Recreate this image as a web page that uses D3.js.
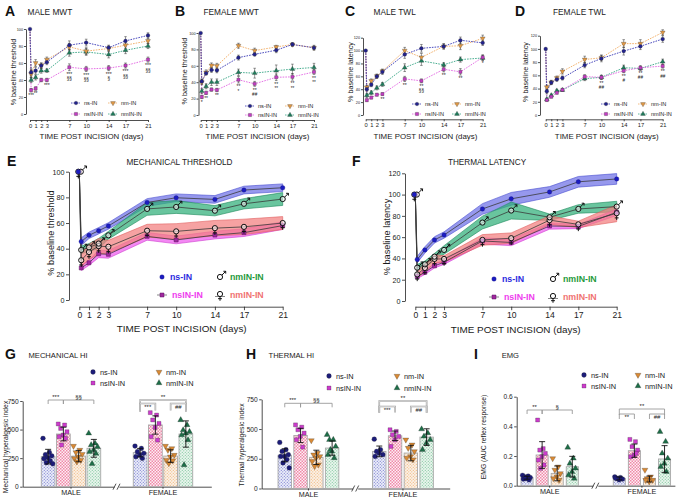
<!DOCTYPE html>
<html><head><meta charset="utf-8">
<script src="https://cdn.jsdelivr.net/npm/d3@7/dist/d3.min.js"></script>
<style>
html,body{margin:0;padding:0;background:#fff}
svg{display:block}
text{font-family:"Liberation Sans",Arial,Helvetica,sans-serif}
</style></head><body>
<svg id="chart" width="688" height="499"></svg>
<script>
// ================= DATA =================
const dayTicks = [0,1,2,3,7,10,14,17,21];
const measureDays = [0,0.2,1,2,3,7,10,14,17,21]; // first entry = pre-incision baseline
const groups = ["ns-IN","nsIN-IN","nm-IN","nmIN-IN"];
const sexes = ["MALE","FEMALE"];
const pctTicks100 = [0,20,40,60,80,100];
const pctTicks120 = [0,20,40,60,80,100,120];
const hiTicks = [0,250,500,750];
const emgTicks = [0,0.2,0.4,0.6];

// A - male MWT
const maleMwtNs   = [100,49,51,57,61,81,84,78,86,92.5];
const maleMwtNm   = [100,47,60,57,64,79,74,77,81,86];
const maleMwtNsin = [100,28,30,40,40,55,53,54,57,64];
const maleMwtNmin = [100,40,43,51,51,72,73,70,75,80];
const maleMwtNsErr   = [0,4,4,3,3,5,4,3,5,3];
const maleMwtNmErr   = [0,4,4,3,3,4,4,3,4,3];
const maleMwtNsinErr = [0,2,2,2,2,4,3,3,3,3];
const maleMwtNminErr = [0,3,3,3,2,4,4,4,4,3];
const maleMwtSig1 = ["","***","**","","***","***","***","***","***","***"];
const maleMwtSig2 = ["","","","","","§§","§§","§","§§","§§"];

// B - female MWT
const femaleMwtNs   = [100,41,51,55,54.5,70,74,79,86,82];
const femaleMwtNm   = [100,40,52,60.5,60,84.5,78.5,83,86,82];
const femaleMwtNsin = [100,22,27,31,30.5,43,38,46,46.5,52.5];
const femaleMwtNmin = [100,29,35,40,40,52,51,54,56,58];
const femaleMwtNsErr   = [0,3,2,3,3,3,2,3,2,3];
const femaleMwtNmErr   = [0,3,3,3,3,3,3,2,2,2];
const femaleMwtNsinErr = [0,2,2,2,2,4,3,4,4,3];
const femaleMwtNminErr = [0,3,3,4,4,4,6,7,6,5];
const femaleMwtSig1 = ["","*","**","","**","**","**","**","**","**"];
const femaleMwtSig2 = ["","","","","","*","##","**","**","**"];

// C - male TWL
const maleTwlNs   = [100,40,47,60,67,94,103.5,106.5,116,112];
const maleTwlNm   = [100,43,53,60.5,68,100,89.5,106.5,107.5,119];
const maleTwlNsin = [100,23,27,31.5,32.5,56,53,71,67,89.5];
const maleTwlNmin = [100,30.5,34.5,42,47.5,73.5,84,78,86,88.5];
const maleTwlNsErr   = [0,3,3,3,4,6,6,4,5,4];
const maleTwlNmErr   = [0,3,3,3,3,5,6,4,6,5];
const maleTwlNsinErr = [0,2,2,2,2,4,3,4,5,4];
const maleTwlNminErr = [0,3,3,3,3,6,7,3,4,4];
const maleTwlSig1 = ["","","","","**","**","**","**","**","*"];
const maleTwlSig2 = ["","","","","","","§§","","",""];

// D - female TWL
const femaleTwlNs   = [100,36,49,54,56,75.5,85.5,96.7,104,115];
const femaleTwlNm   = [100,42,49.5,56,66,84,86.6,108,108,125];
const femaleTwlNsin = [100,22.7,27.7,33.7,38,58,57,67,71.5,74];
const femaleTwlNmin = [100,23.7,29.7,36.8,37.8,55,57,71.5,70.5,80.6];
const femaleTwlNsErr   = [0,4,3,3,3,4,5,6,5,5];
const femaleTwlNmErr   = [0,3,3,3,4,5,4,6,6,4];
const femaleTwlNsinErr = [0,2,2,2,2,3,3,3,3,3];
const femaleTwlNminErr = [0,2,2,2,2,3,3,4,3,4];
const femaleTwlSig1 = ["","","","","","","**","**","**","**"];
const femaleTwlSig2 = ["","","","","","","##","#","##","##"];

// E - mechanical threshold (mean and band half-width)
const mechNs = [100,45.5,50.4,54,57.7,76,79.7,78.4,85.7,87.5];
const mechNsBand = [0,3,2.5,2.5,2.5,3,3,3,3,3];
const mechNsin = [100,25,29,36,35.6,49.6,46.8,50.6,52.5,58];
const mechNsinBand = [0,2,2,3,3,3,3,3,3,3];
const mechNminMale = [100,39,41,44,50.4,71,72.5,69.6,75,78.7];
const mechNminMaleBand = [0,3,3,4,3,5,5,4,4,5];
const mechNminFemale = [100,31,37.4,42,41.5,54,53.5,56,57,60];
const mechNminFemaleBand = [0,5,6,6,5,5,6,6,6,5];

// F - thermal latency
const thermNs = [100,39,48,57.4,62,86.5,96,102.5,112,114.7];
const thermNsBand = [0,3,3,3,3,5,6,5,5,5];
const thermNsin = [100,23,27,33,36.4,56.4,55,70.5,70,83.4];
const thermNsinBand = [0,2,2,2,2,3,3,3,2,3];
const thermNminMale = [100,31.3,34.5,41.7,48,73.7,85,78.7,86.5,88.7];
const thermNminMaleBand = [0,3,3,3,4,6,8,3,4,5];
const thermNminFemale = [100,25,31,39.5,39.5,57.4,59,76,72,82.5];
const thermNminFemaleBand = [0,3,4,4,3,5,5,4,3,8];

// G - mechanical HI (order: ns, nsIN, nm, nmIN)
const mechHiMaleMean = [263,461,268,336];
const mechHiMaleSd   = [64,60,50,78];
const mechHiFemaleMean = [298,540,268,461];
const mechHiFemaleSd   = [37,80,55,115];
const mechHiMalePts = [[423,300,280,270,255,245,225,210,200],[549,540,510,481,452,438,423,365],[356,321,300,285,263,248,233,219],[467,380,365,350,321,306,290,200]];
const mechHiFemalePts = [[356,335,306,292,277,263,248],[648,627,584,554,519,438,408],[356,335,321,277,263,233,228,204],[584,540,495,481,467,452,408,190]];

// H - thermal HI
const thermHiMaleMean = [279,446,262,340];
const thermHiMaleSd   = [55,60,60,60];
const thermHiFemaleMean = [312,443,298,432];
const thermHiFemaleSd   = [45,40,65,70];
const thermHiMalePts = [[387,326,312,284,270,270,243,215,173],[535,516,494,466,438,410,348],[404,298,284,270,257,229,201,187],[452,410,410,354,312,284,257,326]];
const thermHiFemalePts = [[415,326,312,284,298,270],[494,480,452,438,410,354],[410,368,340,312,270,257,243],[499,466,438,410,382,326]];

// I - EMG
const emgMaleMean = [0.054,0.207,0.083,0.128];
const emgMaleSd   = [0.01,0.09,0.05,0.07];
const emgFemaleMean = [0.049,0.236,0.045,0.18];
const emgFemaleSd   = [0.01,0.045,0.02,0.09];
const emgMalePts = [[0.07,0.065,0.06,0.055,0.05,0.045,0.04,0.05],[0.443,0.25,0.24,0.218,0.196,0.173,0.14,0.117],[0.184,0.128,0.106,0.083,0.061,0.049,0.038],[0.258,0.184,0.15,0.117,0.094,0.072,0.049]];
const emgFemalePts = [[0.06,0.055,0.05,0.045,0.04,0.05],[0.312,0.297,0.263,0.24,0.207,0.195,0.218],[0.106,0.061,0.049,0.038,0.027,0.038],[0.364,0.297,0.218,0.184,0.15,0.128,0.094]];

// ================= STYLE =================
const COL = {
  ns:{mark:"#22228c", line:"#3434b4"},
  nm:{mark:"#e39a45", line:"#f0aa60"},
  nsin:{mark:"#c23cc2", line:"#e262e2"},
  nmin:{mark:"#1f7d5c", line:"#35a585"}
};
const GROUPKEY = ["ns","nsin","nm","nmin"];
const svg = d3.select("#chart");
const defs = svg.append("defs");

function addText(x,y,s,o={}) {
  const t = svg.append("text").attr("x",x).attr("y",y).text(s)
    .attr("font-size",o.size||8).attr("fill",o.fill||"#1a1a1a")
    .attr("text-anchor",o.anchor||"start");
  if (o.bold) t.attr("font-weight","bold");
  if (o.rot) t.attr("transform",`rotate(-90,${x},${y})`);
  return t;
}
function symPath(type,size){
  const map = {circle:d3.symbolCircle, square:d3.symbolSquare, tri:d3.symbolTriangle, tridown:d3.symbolTriangle, diamond:d3.symbolDiamond};
  return d3.symbol().type(map[type]).size(size)();
}
function drawMark(g,type,x,y,size,fill,stroke,sw){
  g.append("path").attr("d",symPath(type,size))
   .attr("transform",`translate(${x},${y})`+(type==="tridown"?" rotate(180)":""))
   .attr("fill",fill).attr("stroke",stroke||"none").attr("stroke-width",sw||0.5);
}
function sexSym(g,sex,x,y,r,sw){
  const s = g.append("g").attr("transform",`translate(${x},${y})`);
  s.append("circle").attr("r",r).attr("fill","#fff").attr("fill-opacity",0.55).attr("stroke","#111").attr("stroke-width",sw||1);
  if (sex==="m") {
    const a=r*0.72, b=r*2.2;
    s.append("path").attr("d",`M${a},${-a}L${b},${-b}M${b-r*0.9},${-b}L${b},${-b}L${b},${-b+r*0.9}`)
      .attr("fill","none").attr("stroke","#111").attr("stroke-width",sw||1);
  } else {
    s.append("path").attr("d",`M0,${r}L0,${r*2.6}M${-r*0.75},${r*1.8}L${r*0.75},${r*1.8}`)
      .attr("fill","none").attr("stroke","#111").attr("stroke-width",sw||1);
  }
}
function styleAxis(a,fs,col){
  a.selectAll("path,line").attr("stroke",col||"#222").attr("stroke-width",0.8);
  a.selectAll("text").attr("font-size",fs).attr("fill","#222").attr("font-family",null);
}

// ================= LINE PANELS (A-D) =================
const markType = {ns:"circle", nm:"tridown", nsin:"square", nmin:"tri"};
function linePanel(c){
  const g = svg.append("g");
  const x = d3.scaleLinear().domain([0,21]).range([c.x0,c.x1]);
  const y = d3.scaleLinear().domain([0,c.ymax]).range([c.yb,c.yt]);
  const ya = g.append("g").attr("transform",`translate(${c.axX},0)`)
    .call(d3.axisLeft(y).tickValues(c.yticks).tickSize(2).tickPadding(1).tickSizeOuter(0));
  styleAxis(ya,3.8);
  const xa = g.append("g").attr("transform",`translate(0,${c.axY})`)
    .call(d3.axisBottom(x).tickValues(dayTicks).tickSize(2).tickPadding(1.5).tickSizeOuter(0));
  styleAxis(xa,5.8);
  const order = ["nmin","nsin","nm","ns"];
  order.forEach(k=>{
    const s = c.series[k];
    const pts = measureDays.map((d,i)=>({t:d,v:s.vals[i],e:s.err[i]}));
    g.append("path").attr("d",d3.line().x(d=>x(d.t)).y(d=>y(d.v))(pts))
      .attr("fill","none").attr("stroke",COL[k].line).attr("stroke-width",0.9).attr("stroke-dasharray","1.6,1.1");
  });
  order.forEach(k=>{
    const s = c.series[k];
    measureDays.forEach((d,i)=>{
      if (i===0) return;
      const xx=x(d), e=s.err[i];
      g.append("path").attr("d",`M${xx},${y(s.vals[i]-e)}V${y(s.vals[i]+e)}M${xx-1.3},${y(s.vals[i]+e)}h2.6M${xx-1.3},${y(s.vals[i]-e)}h2.6`)
        .attr("stroke","#333").attr("stroke-width",0.5).attr("fill","none");
    });
  });
  order.forEach(k=>{
    const s = c.series[k];
    measureDays.forEach((d,i)=>{
      if (i===0 && k!=="ns") return;
      drawMark(g,markType[k],x(d),y(s.vals[i]),k==="ns"?11:10,COL[k].mark,"#333",0.3);
    });
  });
  // significance marks below nsIN-IN
  const sn = c.series.nsin;
  measureDays.forEach((d,i)=>{
    const yy = y(sn.vals[i]-sn.err[i]);
    if (c.sig1[i]) g.append("text").attr("x",x(d)).attr("y",yy+5.2).attr("text-anchor","middle").attr("font-size",5).attr("fill","#222").text(c.sig1[i]);
    if (c.sig2[i]) g.append("text").attr("x",x(d)).attr("y",yy+9.6).attr("text-anchor","middle").attr("font-size",4.6).attr("fill","#222").text(c.sig2[i]);
  });
  // legend
  const L=c.legend;
  const items=[["ns","ns-IN",L.x1,L.y1],["nm","nm-IN",L.x2,L.y1],["nsin","nsIN-IN",L.x1,L.y2],["nmin","nmIN-IN",L.x2,L.y2]];
  items.forEach(([k,lab,lx,ly])=>{
    g.append("path").attr("d",`M${lx-5},${ly}h10`).attr("stroke",COL[k].line).attr("stroke-width",0.8).attr("stroke-dasharray","1.5,1");
    drawMark(g,markType[k],lx,ly,10,COL[k].mark,"#333",0.3);
    g.append("text").attr("x",lx+8).attr("y",ly+2).attr("font-size",5.6).attr("fill","#222").text(lab);
  });
  addText(c.lx,c.ly,c.letter,{size:14,bold:true,fill:"#111"});
  addText(c.tx,c.ty,c.title,{size:8.3});
  addText(c.xlx,c.xly,"TIME POST INCISION (days)",{size:7.9,anchor:"middle"});
  addText(c.ylx,c.yly,c.ylabel,{size:7.2,anchor:"middle",rot:true});
}

linePanel({letter:"A",title:"MALE MWT",lx:5,ly:16,tx:27.5,ty:15,x0:30,x1:148,yb:114,yt:29,ymax:100,yticks:pctTicks100,axX:26,axY:120,
  xlx:91.5,xly:138.5,ylx:15.5,yly:72,ylabel:"% baseline threshold",legend:{x1:76,x2:113,y1:103,y2:114},
  series:{ns:{vals:maleMwtNs,err:maleMwtNsErr},nm:{vals:maleMwtNm,err:maleMwtNmErr},nsin:{vals:maleMwtNsin,err:maleMwtNsinErr},nmin:{vals:maleMwtNmin,err:maleMwtNminErr}},
  sig1:maleMwtSig1,sig2:maleMwtSig2});
linePanel({letter:"B",title:"FEMALE MWT",lx:175,ly:16,tx:203.5,ty:15,x0:200.7,x1:314,yb:115,yt:33,ymax:100,yticks:pctTicks100,axX:198.5,axY:120,
  xlx:257.5,xly:138.5,ylx:186.5,yly:71,ylabel:"% baseline threshold",legend:{x1:250,x2:290,y1:106,y2:115},
  series:{ns:{vals:femaleMwtNs,err:femaleMwtNsErr},nm:{vals:femaleMwtNm,err:femaleMwtNmErr},nsin:{vals:femaleMwtNsin,err:femaleMwtNsinErr},nmin:{vals:femaleMwtNmin,err:femaleMwtNminErr}},
  sig1:femaleMwtSig1,sig2:femaleMwtSig2});
linePanel({letter:"C",title:"MALE TWL",lx:345,ly:16,tx:373.5,ty:15,x0:365.7,x1:482.7,yb:115,yt:37.7,ymax:120,yticks:pctTicks120,axX:363,axY:119.3,
  xlx:425.5,xly:138.5,ylx:352.5,yly:72,ylabel:"% baseline latency",legend:{x1:417,x2:457,y1:104,y2:114},
  series:{ns:{vals:maleTwlNs,err:maleTwlNsErr},nm:{vals:maleTwlNm,err:maleTwlNmErr},nsin:{vals:maleTwlNsin,err:maleTwlNsinErr},nmin:{vals:maleTwlNmin,err:maleTwlNminErr}},
  sig1:maleTwlSig1,sig2:maleTwlSig2});
linePanel({letter:"D",title:"FEMALE TWL",lx:515,ly:16,tx:553,ty:15,x0:545.7,x1:662.7,yb:115,yt:35.7,ymax:120,yticks:pctTicks120,axX:540,axY:119.3,
  xlx:606.7,xly:138.5,ylx:527.5,yly:72,ylabel:"% baseline latency",legend:{x1:606,x2:643,y1:104,y2:114},
  series:{ns:{vals:femaleTwlNs,err:femaleTwlNsErr},nm:{vals:femaleTwlNm,err:femaleTwlNmErr},nsin:{vals:femaleTwlNsin,err:femaleTwlNsinErr},nmin:{vals:femaleTwlNmin,err:femaleTwlNminErr}},
  sig1:femaleTwlSig1,sig2:femaleTwlSig2});

// ================= BAND PANELS (E-F) =================
const BAND = {
  ns:{fill:"#6d70e6",edge:"#4a4fd0"},
  male:{fill:"#2fae78",edge:"#1f8a5c"},
  nsin:{fill:"#ee5aee",edge:"#cf3fcf"},
  female:{fill:"#f27e7e",edge:"#e06060"}
};
function bandPanel(c){
  const g = svg.append("g");
  const x = d3.scaleLinear().domain([0,21]).range([c.x0,c.x1]);
  const y = d3.scaleLinear().domain([0,c.ymax]).range([c.yb,c.yt]);
  const ya = g.append("g").attr("transform",`translate(${c.axX},0)`)
    .call(d3.axisLeft(y).tickValues(c.yticks).tickSize(3).tickPadding(1.5).tickSizeOuter(0));
  styleAxis(ya,7.2);
  const xa = g.append("g").attr("transform",`translate(0,${c.axY})`)
    .call(d3.axisBottom(x).tickValues(dayTicks).tickSize(3.5).tickPadding(2).tickSizeOuter(0));
  styleAxis(xa,8.6);
  const order = ["ns","male","nsin","female"];
  order.forEach(k=>{
    const s=c.series[k];
    const pts = measureDays.map((d,i)=>({t:d,v:s.vals[i],b:s.band[i]})).slice(1);
    g.append("path").attr("d",d3.area().x(d=>x(d.t)).y0(d=>y(d.v-d.b)).y1(d=>y(d.v+d.b))(pts))
      .attr("fill",BAND[k].fill).attr("fill-opacity",0.72).attr("stroke",BAND[k].edge).attr("stroke-width",0.6);
  });
  order.forEach(k=>{
    const s=c.series[k];
    const pts = measureDays.map((d,i)=>({t:d,v:s.vals[i]}));
    g.append("path").attr("d",d3.line().x(d=>x(d.t)).y(d=>y(d.v))(pts))
      .attr("fill","none").attr("stroke","#3a3a3a").attr("stroke-width",0.8);
  });
  // markers
  measureDays.forEach((d,i)=>{
    drawMark(g,"square",x(d),y(c.series.nsin.vals[i]),16,"#a0289e","#5a1060",0.5);
  });
  measureDays.forEach((d,i)=>{
    sexSym(g,"f",x(d)+(i===0?-1:0),y(c.series.female.vals[i]),2.6,1);
  });
  measureDays.forEach((d,i)=>{
    sexSym(g,"m",x(d)+(i===0?1.5:0),y(c.series.male.vals[i]),2.6,1);
  });
  measureDays.forEach((d,i)=>{
    drawMark(g,"circle",x(d)+(i===0?-1:0),y(c.series.ns.vals[i]),16,"#1c1cc0","#10107a",0.3);
  });
  // legend
  const L=c.legend;
  drawMark(g,"circle",L.x1,L.y1,16,"#1c1cc0","#10107a",0.3);
  g.append("text").attr("x",L.x1+8).attr("y",L.y1+3).attr("font-size",8.8).attr("font-weight","bold").attr("fill","#2a2ae0").text("ns-IN");
  sexSym(g,"m",L.x2,L.y1,2.6,1);
  g.append("text").attr("x",L.x2+10).attr("y",L.y1+3).attr("font-size",8.8).attr("font-weight","bold").attr("fill","#1f9a3c").text("nmIN-IN");
  g.append("path").attr("d",`M${L.x1-5},${L.y2}h10`).attr("stroke","#555").attr("stroke-width",0.7);
  drawMark(g,"square",L.x1,L.y2,16,"#a0289e","#5a1060",0.5);
  g.append("text").attr("x",L.x1+10).attr("y",L.y2+3).attr("font-size",8.8).attr("font-weight","bold").attr("fill","#ee3cee").text("nsIN-IN");
  g.append("path").attr("d",`M${L.x2-5},${L.y2+1.5}h10`).attr("stroke","#555").attr("stroke-width",0.7);
  sexSym(g,"f",L.x2,L.y2-1,2.6,1);
  g.append("text").attr("x",L.x2+10).attr("y",L.y2+3).attr("font-size",8.8).attr("font-weight","bold").attr("fill","#f07272").text("nmIN-IN");
  addText(c.lx,c.ly,c.letter,{size:14,bold:true,fill:"#111"});
  addText(c.tx,c.ty,c.title,{size:8.2,anchor:"middle"});
  addText(c.xlx,c.xly,"TIME POST INCISION (days)",{size:9.9,anchor:"middle"});
  addText(c.ylx,c.yly,c.ylabel,{size:9.2,anchor:"middle",rot:true});
}
bandPanel({letter:"E",title:"MECHANICAL THRESHOLD",lx:7,ly:166,tx:179.5,ty:165,x0:79.3,x1:282.7,yb:300,yt:171.7,ymax:100,yticks:pctTicks100,axX:69,axY:306.7,
  xlx:181.7,xly:332,ylx:53.5,yly:233,ylabel:"% baseline threshold",legend:{x1:162,x2:220,y1:277,y2:295},
  series:{ns:{vals:mechNs,band:mechNsBand},male:{vals:mechNminMale,band:mechNminMaleBand},nsin:{vals:mechNsin,band:mechNsinBand},female:{vals:mechNminFemale,band:mechNminFemaleBand}}});
bandPanel({letter:"F",title:"THERMAL LATENCY",lx:352,ly:166,tx:487,ty:165,x0:415.3,x1:616.7,yb:301,yt:173.3,ymax:120,yticks:pctTicks120,axX:405,axY:306.7,
  xlx:515.7,xly:333,ylx:390,yly:237,ylabel:"% baseline latency",legend:{x1:494,x2:553,y1:279,y2:297},
  series:{ns:{vals:thermNs,band:thermNsBand},male:{vals:thermNminMale,band:thermNminMaleBand},nsin:{vals:thermNsin,band:thermNsinBand},female:{vals:thermNminFemale,band:thermNminFemaleBand}}});

// ================= BAR PANELS (G-I) =================
function makePattern(id,bg,fg,mode){
  const p = defs.append("pattern").attr("id",id).attr("patternUnits","userSpaceOnUse").attr("width",3).attr("height",3);
  p.append("rect").attr("width",3).attr("height",3).attr("fill",bg);
  if (mode==="check"){
    p.append("rect").attr("width",1.5).attr("height",1.5).attr("fill",fg);
    p.append("rect").attr("x",1.5).attr("y",1.5).attr("width",1.5).attr("height",1.5).attr("fill",fg);
  } else {
    p.append("circle").attr("cx",0.8).attr("cy",0.8).attr("r",0.6).attr("fill",fg);
    p.append("circle").attr("cx",2.3).attr("cy",2.3).attr("r",0.6).attr("fill",fg);
  }
}
makePattern("p-ns","#eceefa","#7479cc","dot");
makePattern("p-nsin","#fdf0f6","#f08aa8","check");
makePattern("p-nm","#fbf1e6","#f0b47a","dot");
makePattern("p-nmin","#eaf6ee","#7cc49a","dot");
const barMark = {ns:["circle","#1c1c7a",18],nsin:["square","#cc3ccc",16],nm:["tridown","#d98a35",15],nmin:["tri","#1e6e48",15]};

function barPanel(c){
  const g = svg.append("g");
  const y = d3.scaleLinear().domain([0,c.ymax]).range([c.yb,c.yt]);
  const outer = d3.scaleBand().domain(sexes).range([c.axX,c.xEnd]).paddingInner(c.pi).paddingOuter(c.po);
  const inner = d3.scaleBand().domain(groups).range([0,outer.bandwidth()]).paddingInner(c.pin);
  const ya = g.append("g").attr("transform",`translate(${c.axX},0)`)
    .call(d3.axisLeft(y).tickValues(c.yticks).tickSize(2.5).tickPadding(1.5).tickSizeOuter(0).tickFormat(c.fmt||d3.format("d")));
  styleAxis(ya,6.6);
  const xa = g.append("g").attr("transform",`translate(0,${c.yb})`)
    .call(d3.axisBottom(outer).tickSize(2).tickPadding(1).tickSizeOuter(0));
  styleAxis(xa,7.2);
  xa.selectAll("text").attr("dy","0.72em");
  // axis break
  const xm = (outer("MALE")+outer.bandwidth()+outer("FEMALE"))/2;
  g.append("rect").attr("x",xm-2.5).attr("y",c.yb-2).attr("width",5).attr("height",4).attr("fill","#fff");
  g.append("path").attr("d",`M${xm-4},${c.yb+3}L${xm-1},${c.yb-3}M${xm},${c.yb+3}L${xm+3},${c.yb-3}`).attr("stroke","#222").attr("stroke-width",0.8);
  sexes.forEach((sx,si)=>{
    const means = c.mean[si], sds=c.sd[si], pts=c.pts[si];
    groups.forEach((gr,gi)=>{
      const k = GROUPKEY[gi];
      const bx = outer(sx)+inner(gr), bw=inner.bandwidth(), cx=bx+bw/2;
      g.append("rect").attr("x",bx).attr("y",y(means[gi])).attr("width",bw).attr("height",c.yb-y(means[gi]))
        .attr("fill",`url(#p-${k})`).attr("stroke","#a8a8a8").attr("stroke-width",0.9);
      pts[gi].forEach((v,j)=>{
        const off = (((j*0.618)%1)-0.5)*bw*0.75;
        const m = barMark[k];
        drawMark(g,m[0],cx+off,y(v),m[2],m[1],"#222",0.25);
      });
      const hi=y(means[gi]+sds[gi]), lo=y(Math.max(0,means[gi]-sds[gi]));
      g.append("path").attr("d",`M${cx},${lo}V${hi}M${cx-3},${hi}h6M${cx-3},${lo}h6`).attr("stroke","#111").attr("stroke-width",0.9).attr("fill","none");
    });
  });
  // brackets
  const center = (sx,gr)=>outer(sx)+inner(gr)+inner.bandwidth()/2;
  c.brackets.forEach(b=>{
    const x1=center(b.sex,groups[b.a]), x2=center(b.sex,groups[b.b]);
    const dd = b.drop||4;
    g.append("path").attr("d",`M${x1},${b.y+dd}V${b.y}H${x2}V${b.y+dd}`).attr("fill","none").attr("stroke","#9a9a9a").attr("stroke-width",b.thick?1.6:0.9);
    if (b.thick) g.append("path").attr("d",`M${x1},${b.y+dd}V${b.y}H${x2}V${b.y+dd}`).attr("fill","none").attr("stroke","#fff").attr("stroke-width",0.5);
    g.append("text").attr("x",(x1+x2)/2).attr("y",b.below?b.y+5.2:b.y-1.5).attr("text-anchor","middle").attr("font-size",6).attr("fill","#222").text(b.label);
  });
  // legend
  const L=c.legend;
  const items=[["ns","ns-IN",L.x1,L.y1],["nm","nm-IN",L.x2,L.y1],["nsin","nsIN-IN",L.x1,L.y2],["nmin","nmIN-IN",L.x2,L.y2]];
  items.forEach(([k,lab,lx,ly])=>{
    const m=barMark[k];
    drawMark(g,m[0],lx,ly,m[2],m[1],"#222",0.25);
    g.append("text").attr("x",lx+7).attr("y",ly+2.6).attr("font-size",7.4).attr("fill","#222").text(lab);
  });
  addText(c.lx,c.ly,c.letter,{size:14,bold:true,fill:"#111"});
  addText(c.tx,c.ty,c.title,{size:7.6});
  addText(c.ylx,c.yly,c.ylabel,{size:6.8,anchor:"middle",rot:true});
}

barPanel({letter:"G",title:"MECHANICAL HI",lx:5,ly:359,tx:28.5,ty:357.5,yb:486.7,yt:401,ymax:750,yticks:hiTicks,axX:22.7,xEnd:211.3,pi:0.354,po:0.202,pin:0.1,
  ylx:7.5,yly:447,ylabel:"Mechanical hyperalgesic index",legend:{x1:93,x2:159,y1:372,y2:383},
  mean:[mechHiMaleMean,mechHiFemaleMean],sd:[mechHiMaleSd,mechHiFemaleSd],pts:[mechHiMalePts,mechHiFemalePts],
  brackets:[{sex:"MALE",a:0,b:1,y:400,label:"***"},{sex:"MALE",a:1,b:3,y:400,label:"§§"},
            {sex:"FEMALE",a:0,b:3,y:400,label:"**",thick:true,drop:12},{sex:"FEMALE",a:0,b:1,y:403.5,label:"***",thick:true,below:true,drop:7},{sex:"FEMALE",a:2,b:3,y:403.5,label:"##",thick:true,below:true,drop:7}]});
barPanel({letter:"H",title:"THERMAL HI",lx:246,ly:359,tx:268.5,ty:357.5,yb:488.5,yt:399.3,ymax:750,yticks:hiTicks,axX:261.7,xEnd:449.7,pi:0.357,po:0.173,pin:0.15,
  ylx:244,yly:445,ylabel:"Thermal hyperalgesic index",legend:{x1:329,x2:397,y1:376,y2:388},
  mean:[thermHiMaleMean,thermHiFemaleMean],sd:[thermHiMaleSd,thermHiFemaleSd],pts:[thermHiMalePts,thermHiFemalePts],
  brackets:[{sex:"MALE",a:0,b:1,y:403.3,label:"***"},{sex:"MALE",a:1,b:3,y:403.3,label:"§§"},
            {sex:"FEMALE",a:0,b:3,y:401,label:"**",thick:true,drop:12},{sex:"FEMALE",a:0,b:1,y:406.5,label:"***",thick:true,below:true,drop:6},{sex:"FEMALE",a:2,b:3,y:406.5,label:"##",thick:true,below:true,drop:6}]});
barPanel({letter:"I",title:"EMG",lx:474,ly:359,tx:501.7,ty:357.5,yb:485.7,yt:396.7,ymax:0.6,yticks:emgTicks,fmt:d3.format(".1f"),axX:516.7,xEnd:674.9,pi:0.379,po:0.047,pin:0.2,
  ylx:486,yly:437,ylabel:"EMG (AUC reflex response)",legend:{x1:584,x2:638,y1:375,y2:386},
  mean:[emgMaleMean,emgFemaleMean],sd:[emgMaleSd,emgFemaleSd],pts:[emgMalePts,emgFemalePts],
  brackets:[{sex:"MALE",a:0,b:1,y:410,label:"**"},{sex:"MALE",a:1,b:3,y:410,label:"§"},
            {sex:"FEMALE",a:0,b:3,y:409,label:"**",drop:6},{sex:"FEMALE",a:0,b:1,y:414,label:"**",below:true,drop:5},{sex:"FEMALE",a:2,b:3,y:414,label:"##",below:true,drop:5}]});
</script>
</body></html>
